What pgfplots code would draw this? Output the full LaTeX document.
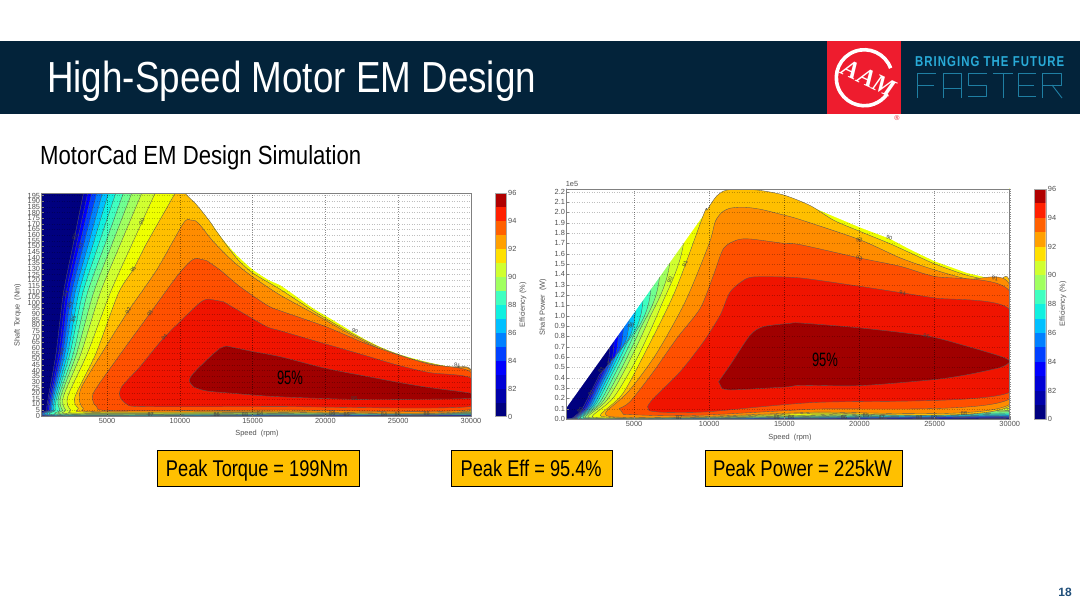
\documentclass[border=0pt]{standalone}
\usepackage{fontspec}
\setmainfont{Liberation Sans}
\newfontfamily\serifbi{Liberation Serif}[BoldItalicFont=* Bold Italic]
\usepackage{pgfplots}
\pgfplotsset{compat=1.18}
\definecolor{hdr}{HTML}{03233A}
\definecolor{aamred}{HTML}{EE1C2E}
\definecolor{brcy}{HTML}{29ABD8}
\definecolor{fast}{HTML}{1F7FA3}
\definecolor{boxy}{HTML}{FFC000}
\definecolor{pnum}{HTML}{1F4E79}
\definecolor{lab}{HTML}{505050}
% contour fills
\definecolor{L0}{HTML}{00007F}\definecolor{L1}{HTML}{0000C0}\definecolor{L2}{HTML}{0000FF}
\definecolor{L3}{HTML}{0040FF}\definecolor{L4}{HTML}{0080FF}\definecolor{L5}{HTML}{00C0FF}
\definecolor{L6}{HTML}{10F0E0}\definecolor{L7}{HTML}{40FFC0}\definecolor{L8}{HTML}{70FF90}
\definecolor{L9}{HTML}{A0FF60}\definecolor{L10}{HTML}{D0FF30}\definecolor{L11}{HTML}{EEFF00}
\definecolor{L12}{HTML}{FFBF00}\definecolor{L13}{HTML}{FF8C00}\definecolor{L14}{HTML}{FF5000}
\definecolor{L15}{HTML}{F01400}\definecolor{L16}{HTML}{A00000}
% colour bar bands
\definecolor{c1}{HTML}{00007F}\definecolor{c2}{HTML}{0000AA}\definecolor{c3}{HTML}{0000D5}
\definecolor{c4}{HTML}{0000FF}\definecolor{c5}{HTML}{0040FF}\definecolor{c6}{HTML}{0080FF}
\definecolor{c7}{HTML}{00C0FF}\definecolor{c8}{HTML}{10F0E0}\definecolor{c9}{HTML}{40FFC0}
\definecolor{c10}{HTML}{70FF90}\definecolor{c11}{HTML}{A0FF60}\definecolor{c12}{HTML}{D0FF30}
\definecolor{c13}{HTML}{FFE000}\definecolor{c14}{HTML}{FFA000}\definecolor{c15}{HTML}{FF6000}
\definecolor{c16}{HTML}{FF2000}\definecolor{c17}{HTML}{B00000}
\pgfplotsset{
  mapax/.style={scale only axis, anchor=south west, axis on top, clip=true,
    xmajorgrids, ymajorgrids,
    x grid style={dash pattern=on .7pt off 1.6pt, black, opacity=.45, line width=.4pt},
    y grid style={dash pattern=on .5pt off 2pt, black, opacity=.25, line width=.25pt},
    axis line style={gray, line width=.8pt},
    tick pos=left,
    tick style={gray, line width=.3pt}, major tick length=2pt,
    tick label style={font=\fontsize{7.4}{8}\selectfont, text=lab, inner sep=1.5pt},
    scaled x ticks=false, scaled y ticks=false,
    /pgf/number format/assume math mode=true, /pgf/number format/1000 sep={},
    xticklabel style={/pgf/number format/fixed},
    xtick={5000,10000,15000,20000,25000,30000}, xmax=30000},
  lev/.style={draw=black!65, line width=.35pt, smooth, tension=.45},
  cbax/.style={scale only axis, anchor=south west, axis on top, xmin=0, xmax=1, ymin=0, ymax=16,
    xtick=\empty, ytick={0,2,4,6,8,10,12,14,16}, yticklabels={0,82,84,86,88,90,92,94,96},
    ytick pos=right, yticklabel pos=right, axis line style={gray!70, line width=.4pt},
    major tick length=0pt,
    tick label style={font=\fontsize{7.4}{8}\selectfont, text=lab, inner sep=2pt}}
}
\newcommand\cbars{%
 \addplot[fill=c1,draw=none] coordinates {(0,0)(1,0)(1,1)(0,1)} --cycle;
 \addplot[fill=c2,draw=none] coordinates {(0,1)(1,1)(1,2)(0,2)} --cycle;
 \addplot[fill=c3,draw=none] coordinates {(0,2)(1,2)(1,3)(0,3)} --cycle;
 \addplot[fill=c4,draw=none] coordinates {(0,3)(1,3)(1,4)(0,4)} --cycle;
 \addplot[fill=c5,draw=none] coordinates {(0,4)(1,4)(1,5)(0,5)} --cycle;
 \addplot[fill=c6,draw=none] coordinates {(0,5)(1,5)(1,6)(0,6)} --cycle;
 \addplot[fill=c7,draw=none] coordinates {(0,6)(1,6)(1,7)(0,7)} --cycle;
 \addplot[fill=c8,draw=none] coordinates {(0,7)(1,7)(1,8)(0,8)} --cycle;
 \addplot[fill=c9,draw=none] coordinates {(0,8)(1,8)(1,9)(0,9)} --cycle;
 \addplot[fill=c11,draw=none] coordinates {(0,9)(1,9)(1,10)(0,10)} --cycle;
 \addplot[fill=c12,draw=none] coordinates {(0,10)(1,10)(1,11)(0,11)} --cycle;
 \addplot[fill=c13,draw=none] coordinates {(0,11)(1,11)(1,12)(0,12)} --cycle;
 \addplot[fill=c14,draw=none] coordinates {(0,12)(1,12)(1,13)(0,13)} --cycle;
 \addplot[fill=c15,draw=none] coordinates {(0,13)(1,13)(1,14)(0,14)} --cycle;
 \addplot[fill=c16,draw=none] coordinates {(0,14)(1,14)(1,15)(0,15)} --cycle;
 \addplot[fill=c17,draw=none] coordinates {(0,15)(1,15)(1,16)(0,16)} --cycle;
}
\newcommand\lbl[4]{\node[rotate=#3,font=\fontsize{5.5}{6}\selectfont,text=black!75,inner sep=0pt] at (#1,{608-#2}) {#4};}
\begin{document}
\begin{tikzpicture}[x=1pt,y=1pt]
\useasboundingbox (0,0) rectangle (1080,608);
\fill[white] (0,0) rectangle (1080,608);
% header
\fill[hdr] (0,{608-114}) rectangle (1080,{608-41});
\node[anchor=base west,inner sep=0pt,text=white] at (47,{608-92.7}) {\resizebox{489pt}{31.5pt}{\fontsize{40}{48}\selectfont High-Speed Motor EM Design}};
% logo
\fill[aamred] (827.3,{608-114}) rectangle (901,{608-41});
\draw[white,line width=3.6pt] (864.3+28*0.94,{608-77.7+28*0.34}) arc (20:325:28);
\begin{scope}[font=\serifbi\bfseries\itshape\fontsize{25}{26}\selectfont,text=white]
\node[rotate=-25,inner sep=0pt] at (851,{608-69.5}) {A};
\node[rotate=-25,inner sep=0pt] at (867,{608-77.5}) {A};
\node[rotate=-25,inner sep=0pt] at (884,{608-86}) {M};
\end{scope}
\node[text=aamred,font=\fontsize{7}{8}\selectfont,inner sep=0pt] at (897,{608-118.5}) {®};
\node[anchor=base west,inner sep=0pt,text=brcy] at (915,{608-67}) {\resizebox{149pt}{10pt}{\bfseries\fontsize{12}{14}\selectfont\addfontfeature{LetterSpace=9}BRINGING THE FUTURE}};
\begin{scope}[draw=fast,double=hdr,double distance=1.5pt,line width=.9pt,line join=round,line cap=butt]
 \draw (917,510) -- (917,535) -- (936,535);
 \draw (917,523) -- (934,523);
 \draw (943,510) -- (943,535) -- (961,535) -- (961,510);
 \draw (943,520) -- (961,520);
 \draw (968,512) -- (986,512) -- (986,523) -- (968,523) -- (968,535) -- (987,535);
 \draw (993,535) -- (1013,535);
 \draw (1003,535) -- (1003,510);
 \draw (1036,535) -- (1018,535) -- (1018,512) -- (1036,512);
 \draw (1018,523) -- (1034,523);
 \draw (1042,510) -- (1042,535) -- (1061,535) -- (1061,523) -- (1042,523);
 \draw (1052,523) -- (1062,510);
\end{scope}
% subtitle
\node[anchor=base west,inner sep=0pt,text=black] at (40,{608-165}) {\resizebox{321pt}{19pt}{\fontsize{24}{28}\selectfont MotorCad EM Design Simulation}};
% ================= LEFT CHART ==================
\begin{axis}[mapax, at={(41.7pt,191.3pt)}, width=429.3pt, height=223.4pt,
  xmin=512, ymin=-0.9, ymax=197,
  ytick={0,5,...,195}]
\addplot[fill=L0,draw=none] coordinates {(0,-5)(32000,-5)(32000,205)(0,205)} --cycle;
\addplot[lev,fill=L1] coordinates {(3500,205)(3374,197)(2687,152.7)(2000,108.4)(1497,55.2)(970,16.8)(856,5)(1100,-.3)(16000,-.2)(30000,.2)(32000,.2)(32000,205)} --cycle;
\addplot[lev,fill=L2] coordinates {(3800,205)(3671,197)(2916,152.7)(2183,108.4)(1680,55.2)(1062,16.8)(947,5)(1200,-.15)(16000,0)(30000,.41)(32000,.41)(32000,205)} --cycle;
\addplot[lev,fill=L3] coordinates {(4100,205)(3946,197)(3145,152.7)(2366,108.4)(1817,55.2)(1153,16.8)(1039,5)(1300,0)(16000,.2)(30000,.6)(32000,.6)(32000,205)} --cycle;
\addplot[lev,fill=L4] coordinates {(4450,205)(4289,197)(3419,152.7)(2572,108.4)(1954,55.2)(1245,16.8)(1130,5)(1400,.15)(16000,.4)(30000,.83)(32000,.83)(32000,205)} --cycle;
\addplot[lev,fill=L5] coordinates {(4850,205)(4678,197)(3740,152.7)(2801,108.4)(2115,55.2)(1336,16.8)(1222,5)(1600,.3)(16000,.6)(30000,1.0)(32000,1.0)(32000,205)} --cycle;
\addplot[lev,fill=L6] coordinates {(5250,205)(5090,197)(4060,152.7)(3053,108.4)(2298,55.2)(1451,16.8)(1336,5)(1800,.45)(16000,.8)(30000,1.24)(32000,1.24)(32000,205)} --cycle;
\addplot[lev,fill=L7] coordinates {(5800,205)(5594,197)(4449,152.7)(3328,108.4)(2458,55.2)(1565,16.8)(1451,5)(2000,.6)(16000,1.0)(30000,1.5)(32000,1.5)(32000,205)} --cycle;
\addplot[lev,fill=L8] coordinates {(6350,205)(6120,197)(4884,152.7)(3648,108.4)(2687,55.2)(1680,16.8)(1771,5)(2344,.9)(16000,1.3)(30000,1.85)(32000,1.85)(32000,205)} --cycle;
\addplot[lev,fill=L9] coordinates {(6950,205)(6693,197)(5365,152.7)(4060,108.4)(2916,55.2)(1817,16.8)(1932,5)(2572,1.2)(16000,1.6)(30000,2.3)(32000,2.3)(32000,205)} --cycle;
\addplot[lev,fill=L10] coordinates {(7600,205)(7379,197)(5937,152.7)(4518,108.4)(3213,55.2)(2000,16.8)(2160,5)(2916,1.5)(16000,2.0)(30000,2.7)(32000,2.7)(32000,205)} --cycle;
\addplot[lev,fill=L11] coordinates {(8600,205)(8295,197)(6738,152.7)(5205,108.4)(3648,55.2)(2298,16.8)(2504,5)(3374,2.1)(16000,2.5)(30000,3.3)(32000,3.3)(32000,205)} --cycle;
% outside the envelope
\addplot[fill=white,draw=none,smooth,tension=.45] coordinates {(10355,197)(11156,186.7)(12072,171.9)(12987,155.7)(13903,142.4)(15047,129.1)(16192,119.6)(16879,115.8)(18027,105.5)(19171,95.1)(20316,86.3)(21460,77.4)(22605,68.5)(23749,61.1)(24894,55.2)(26038,50.8)(27183,47)(28327,44)(30000,41.4)(32000,41)(32000,205)(10000,205)} --cycle;
\addplot[lev,fill=L12] coordinates {(9900,205)(9668,197)(7723,152.7)(6807,129.7)(5777,108.4)(4243,55.2)(2801,16.8)(3030,6.5)(3831,3)(16000,3)(30000,4)(30000,40.8)(28327,43.4)(26038,49.9)(23749,60.3)(21460,75.3)(19171,92.8)(16882,112)(15047,126.1)(13903,139.4)(12530,163.1)(12072,171.9)(11156,186.7)(10355,197)(10000,205)} --cycle;
\addplot[lev,fill=L13] coordinates {(10698,173.4)(10241,170.4)(8409,129.1)(6464,92.8)(4632,55.2)(3259,25.7)(3099,13.9)(3374,6.5)(4289,3.5)(16882,3.5)(30000,4.5)(30000,40.2)(28327,42.8)(26038,49)(23749,59.1)(21460,73.9)(19171,90.7)(16882,106.9)(15047,122.6)(13674,136.5)(12301,154.2)(11385,169)(11042,172.8)} --cycle;
\addplot[lev,fill=L14] coordinates {(11156,139.4)(10698,136.5)(9783,123.2)(7952,90.7)(6120,58.2)(4175,22.7)(4014,13.9)(4289,8)(5434,4.4)(16882,5)(30000,5.6)(30000,38.4)(27183,45.5)(25008,53.8)(22605,64.7)(20018,78.9)(16882,93)(15963,98.1)(14132,114.3)(12758,129.1)(11843,137.4)} --cycle;
\addplot[lev,fill=L15] coordinates {(12072,103.1)(11385,100.1)(8936,69.4)(7265,43.4)(6006,25.7)(5891,16.8)(6349,10.3)(7494,8)(16882,8)(30000,8.2)(30000,33.1)(27183,38.1)(25008,44.6)(22605,53.8)(20018,63.5)(16882,75.3)(15963,78.9)(14361,90.7)(12987,101)} --cycle;
\addplot[lev,fill=L16] coordinates {(13216,61.7)(12758,59.7)(11843,49.3)(10927,37.5)(10653,31.6)(10927,25.7)(11843,21.9)(13674,19.8)(15963,17.4)(18252,16)(21918,14.5)(26038,14.5)(30000,15.4)(30000,19.8)(27183,24.8)(25008,29.5)(22605,35.4)(20018,41.9)(16882,52.3)(15047,56.7)} --cycle;
\end{axis}
\begin{axis}[cbax, at={(495pt,191.3pt)}, width=11pt, height=223.4pt]
\cbars
\end{axis}
% ================= RIGHT CHART ==================
\begin{axis}[mapax, at={(566.7pt,188.7pt)}, width=443pt, height=230.3pt,
  xmin=513, ymin=-0.003, ymax=2.226,
  ytick={0,0.1,...,2.25},
  yticklabel style={/pgf/number format/fixed,/pgf/number format/precision=1,/pgf/number format/fixed zerofill}]
\addplot[fill=L0,draw=none] coordinates {(0,-1)(32000,-1)(32000,3)(0,3)} --cycle;
\addplot[lev,fill=L1] coordinates {(3374,3)(3374,.696)(2687,.430)(2000,.227)(1497,.0865)(970,.017)(856,.0045)(1200,0)(16731,0)(30000,.0065)(32000,.0065)(32000,3)} --cycle;
\addplot[lev,fill=L2] coordinates {(3671,3)(3671,.757)(2916,.466)(2183,.248)(1680,.0971)(1062,.0187)(947,.005)(1500,.0005)(16731,.003)(30000,.013)(32000,.013)(32000,3)} --cycle;
\addplot[lev,fill=L3] coordinates {(3946,3)(3946,.814)(3145,.503)(2366,.269)(1817,.105)(1153,.0203)(1039,.0054)(1800,.001)(16731,.006)(30000,.019)(32000,.019)(32000,3)} --cycle;
\addplot[lev,fill=L4] coordinates {(4289,3)(4289,.885)(3419,.547)(2572,.292)(1954,.113)(1245,.0219)(1130,.0059)(2100,.0015)(16731,.01)(30000,.026)(32000,.026)(32000,3)} --cycle;
\addplot[lev,fill=L5] coordinates {(4678,3)(4678,.965)(3740,.598)(2801,.318)(2115,.122)(1336,.0235)(1222,.0064)(2400,.002)(16731,.013)(30000,.032)(32000,.032)(32000,3)} --cycle;
\addplot[lev,fill=L6] coordinates {(5090,3)(5090,1.05)(4060,.649)(3053,.347)(2298,.133)(1451,.0255)(1336,.007)(2700,.003)(16731,.016)(30000,.039)(32000,.039)(32000,3)} --cycle;
\addplot[lev,fill=L7] coordinates {(5594,3)(5594,1.154)(4449,.711)(3328,.378)(2458,.142)(1565,.0275)(1451,.0076)(3000,.004)(16731,.019)(30000,.048)(32000,.048)(32000,3)} --cycle;
\addplot[lev,fill=L8] coordinates {(6120,3)(6120,1.263)(4884,.781)(3648,.414)(2687,.155)(1680,.0296)(1771,.0093)(3500,.005)(16731,.023)(30000,.058)(32000,.058)(32000,3)} --cycle;
\addplot[lev,fill=L9] coordinates {(6693,3)(6693,1.381)(5365,.858)(4060,.461)(2916,.169)(1817,.032)(1932,.0101)(4000,.006)(16731,.026)(30000,.071)(32000,.071)(32000,3)} --cycle;
\addplot[lev,fill=L10] coordinates {(7379,3)(7379,1.522)(5937,.949)(4518,.513)(3213,.186)(2000,.035)(2160,.0113)(4500,.008)(16731,.032)(30000,.084)(32000,.084)(32000,3)} --cycle;
\addplot[lev,fill=L11] coordinates {(8295,3)(8295,1.711)(6738,1.077)(5205,.591)(3648,.211)(2298,.04)(2504,.0131)(5000,.012)(16731,.039)(30000,.103)(32000,.103)(32000,3)} --cycle;
% outside the envelope
\addplot[fill=white,draw=none] coordinates {(0,.02)(511,.113)(4733,.974)(9621,1.974)(9844,2.02)(10177,2.097)(10510,2.16)(10955,2.206)(11621,2.223)(13177,2.216)(14954,2.168)(16067,2.10)(18289,1.961)(20022,1.855)(22022,1.745)(23400,1.639)(25022,1.526)(27177,1.413)(29066,1.348)(30000,1.32)(32000,1.32)(32000,3)(0,3)} --cycle;
\addplot[lev,fill=L12] coordinates {(3831,.012)(3030,.0206)(2801,.049)(4243,.245)(5777,.656)(7723,1.235)(9668,1.995)(9844,2.02)(10177,2.097)(10510,2.16)(10955,2.206)(11621,2.223)(13177,2.216)(14954,2.168)(16731,2.065)(18289,1.923)(20022,1.816)(22022,1.697)(23400,1.606)(25022,1.5)(27177,1.39)(29066,1.332)(30000,1.31)(30000,.126)(16731,.055)(10000,.019)(5000,.008)} --cycle;
\addplot[lev,fill=L13] coordinates {(4289,.016)(3374,.023)(3099,.045)(3259,.088)(4632,.268)(6464,.628)(8409,1.137)(10000,1.7)(10399,1.91)(10843,2.0)(11399,2.04)(12288,2.05)(13399,2.03)(14954,1.974)(16067,1.929)(20022,1.735)(22733,1.558)(24955,1.445)(27177,1.355)(30000,1.294)(30000,.142)(16731,.065)(10000,.026)(5000,.012)} --cycle;
\addplot[lev,fill=L14] coordinates {(4022,.103)(4733,.168)(6288,.458)(7844,.781)(9400,1.071)(10288,1.394)(10955,1.652)(11843,1.732)(12732,1.742)(14954,1.7)(16067,1.687)(20022,1.558)(22733,1.477)(24955,1.381)(30000,1.235)(30000,.194)(16731,.094)(10000,.04)(6955,.032)(4289,.045)} --cycle;
\addplot[lev,fill=L15] coordinates {(5888,.119)(6288,.2)(8066,.458)(9621,.748)(10732,1.006)(11399,1.232)(12510,1.361)(13621,1.377)(16067,1.365)(20022,1.284)(22911,1.219)(25022,1.171)(30000,1.058)(30000,.258)(16731,.158)(10000,.071)(6955,.065)(6000,.08)} --cycle;
\addplot[lev,fill=L16] coordinates {(10621,.361)(11399,.523)(12732,.813)(13621,.894)(15399,.926)(16067,.929)(20067,.881)(24511,.803)(27177,.703)(29400,.606)(30000,.558)(29400,.5)(27177,.429)(24955,.381)(20067,.323)(16067,.326)(15399,.313)(13621,.297)(11399,.281)(10843,.297)} --cycle;
\end{axis}
\begin{axis}[cbax, at={(1034pt,188.7pt)}, width=11.7pt, height=230.3pt]
\cbars
\end{axis}
% axis titles
\begin{scope}[every node/.style={font=\fontsize{7.4}{8}\selectfont,text=lab,inner sep=0pt}]
\node at (257,{608-434}) {Speed\ \ (rpm)};
\node at (790,{608-438}) {Speed\ \ (rpm)};
\node[rotate=90] at (17.7,{608-315}) {Shaft Torque\ \ (Nm)};
\node[rotate=90] at (543,{608-307}) {Shaft Power\ \ (W)};
\node[rotate=90] at (523,{608-305}) {Efficiency (\%)};
\node[rotate=90] at (1063,{608-304}) {Efficiency (\%)};
\node at (572,{608-184}) {1e5};
\end{scope}
% contour labels
\lbl{141.7}{221.7}{60}{90}\lbl{133.3}{269.3}{60}{91}\lbl{128.3}{311}{60}{92}\lbl{150}{313.3}{60}{93}\lbl{164.3}{337.3}{50}{94}
\lbl{354.3}{398.3}{0}{95}\lbl{355}{330.7}{-25}{90}\lbl{457.3}{365.3}{-10}{91}
\lbl{75}{236.7}{70}{82}\lbl{80}{245.7}{70}{83}\lbl{66}{294.3}{70}{84}\lbl{70}{305}{70}{85}\lbl{73.3}{319}{70}{86}\lbl{61}{352.3}{70}{80}
\lbl{150.7}{415}{0}{87}\lbl{216.7}{415}{0}{86}\lbl{245}{415}{0}{88}\lbl{260}{414}{0}{84}\lbl{332.3}{413.3}{0}{86}\lbl{346.7}{415}{0}{85}\lbl{384}{415}{0}{84}\lbl{397.7}{415}{0}{85}\lbl{426.7}{413.3}{0}{88}
\lbl{670}{280}{70}{90}\lbl{685}{264.3}{70}{91}\lbl{631}{325}{55}{86}\lbl{610}{361.7}{55}{84}\lbl{601}{370}{55}{83}\lbl{591}{393.3}{55}{82}\lbl{580}{410}{55}{80}
\lbl{679.3}{417.7}{0}{87}\lbl{776.7}{417.7}{0}{86}\lbl{791}{417.7}{0}{84}\lbl{844}{417.3}{0}{86}\lbl{866}{415.7}{0}{85}\lbl{881.7}{417.7}{0}{87}\lbl{919.3}{417.7}{0}{88}\lbl{934}{417.7}{0}{82}\lbl{964}{413.3}{0}{88}
\lbl{859.3}{240}{-15}{92}\lbl{859.3}{258.3}{-10}{93}\lbl{902.7}{293.3}{-5}{94}\lbl{926.7}{336.3}{-5}{95}\lbl{889.3}{237.7}{-20}{90}\lbl{995}{278.3}{-10}{91}
% 95 % annotations
\node[inner sep=0pt] at (290,{608-378}) {\resizebox{26pt}{13.5pt}{\fontsize{16}{18}\selectfont 95\%}};
\node[inner sep=0pt] at (825,{608-360}) {\resizebox{26pt}{13.5pt}{\fontsize{16}{18}\selectfont 95\%}};
% peak boxes
\begin{scope}[every node/.style={inner sep=0pt,anchor=base}]
\draw[black,line width=1pt,fill=boxy] (157,{608-486.3}) rectangle (359.5,{608-450.7});
\node at (257,{608-476.7}) {\resizebox{182pt}{16.5pt}{\fontsize{21}{24}\selectfont Peak Torque = 199Nm}};
\draw[black,line width=1pt,fill=boxy] (451.7,{608-486.6}) rectangle (612.7,{608-451});
\node at (531.2,{608-476.7}) {\resizebox{141pt}{16.5pt}{\fontsize{21}{24}\selectfont Peak Eff = 95.4\%}};
\draw[black,line width=1pt,fill=boxy] (705,{608-486.3}) rectangle (902,{608-451});
\node at (802.5,{608-476.7}) {\resizebox{179pt}{16.5pt}{\fontsize{21}{24}\selectfont Peak Power = 225kW}};
\end{scope}
\node[text=pnum,font=\bfseries\fontsize{12}{14}\selectfont,inner sep=0pt] at (1065,{608-592.5}) {18};
\end{tikzpicture}
\end{document}
